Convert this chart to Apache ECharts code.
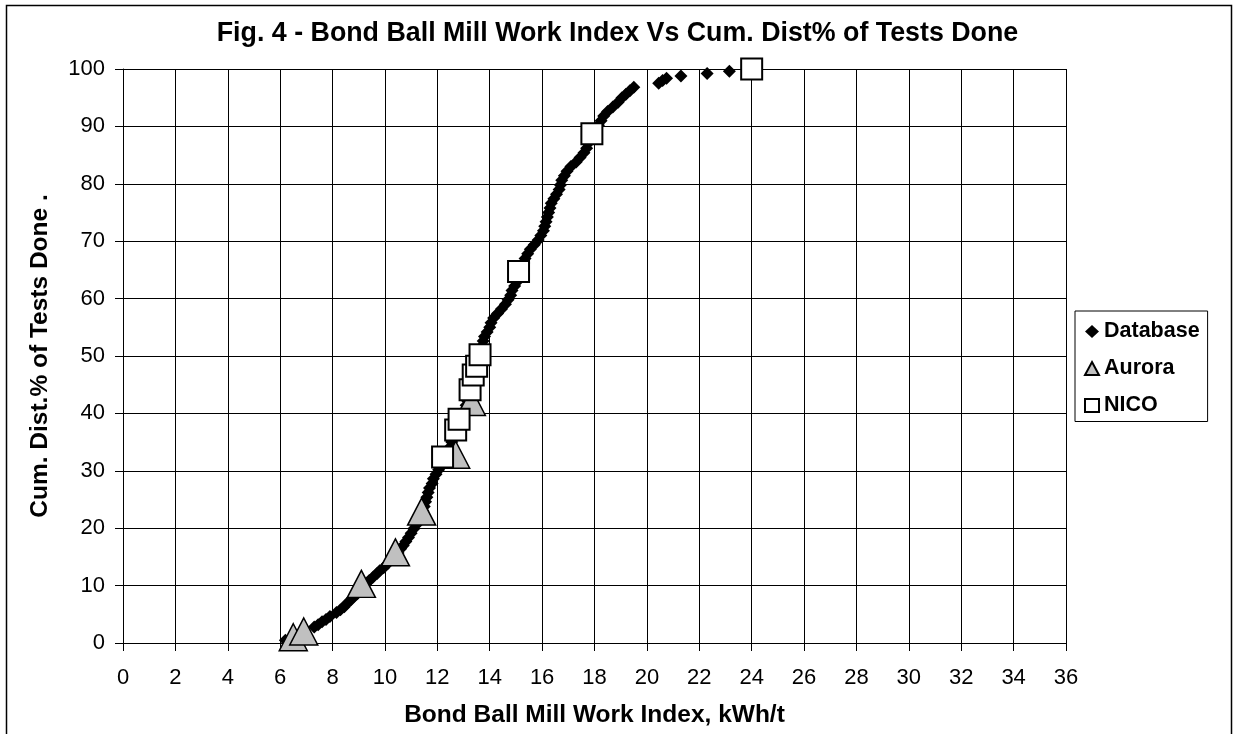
<!DOCTYPE html>
<html>
<head>
<meta charset="utf-8">
<script src="https://cdn.jsdelivr.net/npm/echarts@6/dist/echarts.min.js"></script>
<style>
html,body{margin:0;padding:0;background:#fff;}
#chart{width:1235px;height:734px;}
</style>
</head>
<body>
<div id="chart"></div>
<script>
// ---- Data ----
const titleText = "Fig. 4 - Bond Ball Mill Work Index Vs Cum. Dist% of Tests Done";
const xAxisTitle = "Bond Ball Mill Work Index, kWh/t";
const yAxisTitle = "Cum. Dist.% of Tests Done .";
const seriesNames = ["Database", "Aurora", "NICO"];

const databaseX = [6.2,7.3,7.45,7.6,7.75,7.9,8.15,8.3,8.45,8.55,8.7,8.8,8.95,9.05,9.2,9.3,9.4,9.55,9.7,9.8,
  9.95,10.1,10.2,10.35,10.5,10.6,10.7,10.8,10.9,11.0,11.1,11.2,11.3,11.35,11.45,11.5,11.55,11.6,11.65,11.7,
  11.8,11.85,11.95,12.05,12.15,12.25,12.3,12.4,12.5,12.55,12.65,12.7,12.8,12.85,12.95,13.0,13.05,13.1,13.15,13.2,
  13.25,13.3,13.35,13.4,13.45,13.5,13.55,13.6,13.65,13.7,13.72,13.75,13.8,13.9,14.0,14.05,14.15,14.3,14.45,14.6,
  14.7,14.8,14.85,14.95,15.05,15.1,15.15,15.2,15.3,15.35,15.45,15.55,15.7,15.85,15.95,16.05,16.1,16.15,16.2,16.25,
  16.3,16.35,16.45,16.55,16.65,16.7,16.75,16.85,16.95,17.1,17.3,17.45,17.6,17.7,17.75,17.85,17.95,18.05,18.15,18.25,
  18.35,18.5,18.7,18.9,19.05,19.2,19.35,19.5,20.45,20.6,20.75,21.3,22.3,23.15];
const databaseY = [0.5,2.8,3.2,3.7,4.1,4.6,5.3,5.8,6.3,6.9,7.5,8.0,8.6,9.2,9.8,10.4,10.9,11.5,12.1,12.6,
  13.1,13.8,14.4,15.0,15.7,16.4,17.0,17.7,18.4,19.1,19.9,20.6,21.4,22.2,23.0,23.8,24.6,25.4,26.2,27.0,
  27.8,28.6,29.4,30.2,31.0,31.8,32.6,33.4,34.2,35.0,35.8,36.6,37.4,38.2,39.0,39.8,40.6,41.4,42.2,43.0,
  43.8,44.6,45.4,46.2,47.0,47.8,48.6,49.4,50.2,51.0,51.8,52.6,53.4,54.2,55.0,55.8,56.6,57.4,58.2,59.0,
  59.8,60.6,61.4,62.2,63.0,63.8,64.6,65.4,66.2,67.0,67.8,68.6,69.4,70.2,71.0,71.8,72.6,73.4,74.2,75.0,
  75.8,76.6,77.4,78.2,79.0,79.8,80.6,81.4,82.2,83.0,83.8,84.6,85.4,86.2,87.0,87.8,88.6,89.4,90.2,91.0,
  91.8,92.6,93.4,94.2,95.0,95.6,96.2,96.8,97.5,98.0,98.4,98.8,99.2,99.6];

const auroraX = [6.5, 6.9, 9.1, 10.4, 11.4, 12.7, 13.3];
const auroraY = [1.0, 2.0, 10.3, 15.8, 22.9, 32.8, 42.0];

const nicoX = [12.2, 12.7, 12.83, 13.25, 13.37, 13.5, 13.63, 15.1, 17.9, 24.0];
const nicoY = [32.4, 37.1, 39.0, 44.1, 46.7, 48.2, 50.2, 64.7, 88.7, 100.0];

const xMin = 0, xMax = 36, xStep = 2;
const yMin = 0, yMax = 100, yStep = 10;

function pairs(xs, ys){ return xs.map((x,i)=>[x, ys[i]]); }

const FONT = "'Liberation Sans', Arial, sans-serif";
const chart = echarts.init(document.getElementById('chart'), null, {renderer:'canvas'});
chart.setOption({
  animation: false,
  backgroundColor: '#fff',
  title: {
    text: titleText,
    left: 'center', top: 15,
    textStyle: {fontFamily: FONT, fontSize: 26.8, fontWeight: 'bold', color: '#000'}
  },
  graphic: [{
    type: 'rect', silent: true, z: 100,
    shape: {x: 6.5, y: 5.5, width: 1225, height: 760},
    style: {fill: 'none', stroke: '#000', lineWidth: 1.5}
  }],
  legend: {
    orient: 'vertical',
    left: 1075, top: 311,
    padding: [9.5, 8, 5, 9],
    itemGap: 15,
    itemWidth: 14, itemHeight: 13,
    borderColor: '#000', borderWidth: 1,
    backgroundColor: '#fff',
    textStyle: {fontFamily: FONT, fontSize: 21.5, fontWeight: 'bold', color: '#000'},
    data: [
      {name: seriesNames[0], icon: 'diamond'},
      {name: seriesNames[1], icon: 'triangle'},
      {name: seriesNames[2], icon: 'rect'}
    ]
  },
  grid: {left: 123, right: 169, top: 69, bottom: 91, containLabel: false},
  xAxis: {
    type: 'value', min: xMin, max: xMax, interval: xStep,
    name: xAxisTitle, nameLocation: 'middle', nameGap: 60,
    nameTextStyle: {fontFamily: FONT, fontSize: 24.5, fontWeight: 'bold', color: '#000'},
    axisLine: {show: true, onZero: false, lineStyle: {color: '#000', width: 1}},
    axisTick: {show: true, length: 8, inside: false, lineStyle: {color: '#000'}},
    axisLabel: {fontFamily: FONT, fontSize: 22, color: '#000', margin: 24},
    splitLine: {show: true, lineStyle: {color: '#000', width: 1}}
  },
  yAxis: {
    type: 'value', min: yMin, max: yMax, interval: yStep,
    name: yAxisTitle, nameLocation: 'middle', nameGap: 70,
    nameTextStyle: {fontFamily: FONT, fontSize: 24.5, fontWeight: 'bold', color: '#000'},
    axisLine: {show: true, lineStyle: {color: '#000', width: 1}},
    axisTick: {show: true, length: 8, inside: false, lineStyle: {color: '#000'}},
    axisLabel: {fontFamily: FONT, fontSize: 22, color: '#000', margin: 18},
    splitLine: {show: true, lineStyle: {color: '#000', width: 1}}
  },
  series: [
    {
      name: seriesNames[0], type: 'scatter', symbol: 'diamond', symbolSize: 13,
      itemStyle: {color: '#000', borderWidth: 0, opacity: 1},
      data: pairs(databaseX, databaseY), z: 2
    },
    {
      name: seriesNames[1], type: 'scatter', symbol: 'triangle', symbolSize: [28, 27],
      itemStyle: {color: '#c0c0c0', borderColor: '#000', borderWidth: 1.5, opacity: 1},
      data: pairs(auroraX, auroraY), z: 3
    },
    {
      name: seriesNames[2], type: 'scatter', symbol: 'rect', symbolSize: 21,
      itemStyle: {color: '#fff', borderColor: '#000', borderWidth: 2, opacity: 1},
      data: pairs(nicoX, nicoY), z: 4
    }
  ]
});
</script>
</body>
</html>
